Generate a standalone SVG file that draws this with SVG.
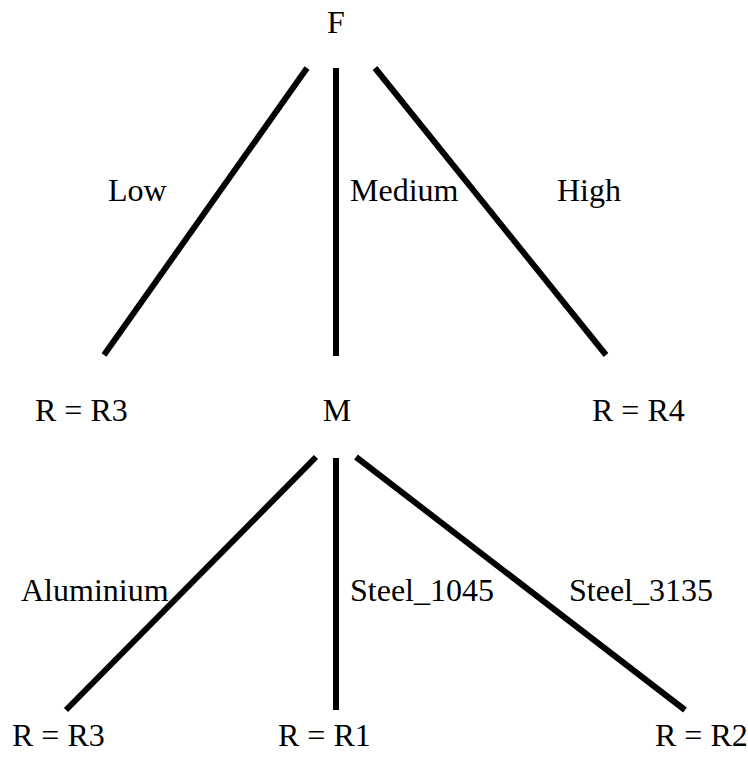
<svg xmlns="http://www.w3.org/2000/svg" width="748" height="765" viewBox="0 0 748 765">
<style>
.edge{stroke:#000;stroke-width:6;stroke-linecap:butt}
</style>
<rect width="748" height="765" fill="#fff"/>
<g id="connectors">
<line class="edge" x1="307" y1="68" x2="104" y2="355"/>
<line class="edge" x1="336" y1="68" x2="336" y2="356"/>
<line class="edge" x1="375" y1="68" x2="606" y2="355"/>
<line class="edge" x1="316" y1="457" x2="66" y2="710"/>
<line class="edge" x1="336" y1="458" x2="336" y2="710"/>
<line class="edge" x1="356" y1="457" x2="685" y2="710"/>
<text font-family="Liberation Serif, serif" font-size="32" x="108" y="201">Low</text>
<text font-family="Liberation Serif, serif" font-size="32" x="350" y="201">Medium</text>
<text font-family="Liberation Serif, serif" font-size="32" x="557" y="201">High</text>
<text font-family="Liberation Serif, serif" font-size="32" x="21" y="601">Aluminium</text>
<text font-family="Liberation Serif, serif" font-size="32" x="350" y="601">Steel_1045</text>
<text font-family="Liberation Serif, serif" font-size="32" x="569" y="601">Steel_3135</text>
</g>
<g id="nF"><text font-family="Liberation Serif, serif" font-size="32" x="336" y="33" text-anchor="middle">F</text></g>
<g id="nR3a"><text font-family="Liberation Serif, serif" font-size="32" x="35" y="421">R = R3</text></g>
<g id="nM"><text font-family="Liberation Serif, serif" font-size="32" x="337" y="421" text-anchor="middle">M</text></g>
<g id="nR4"><text font-family="Liberation Serif, serif" font-size="32" x="592" y="421">R = R4</text></g>
<g id="nR3b"><text font-family="Liberation Serif, serif" font-size="32" x="12" y="746">R = R3</text></g>
<g id="nR1"><text font-family="Liberation Serif, serif" font-size="32" x="278" y="746">R = R1</text></g>
<g id="nR2"><text font-family="Liberation Serif, serif" font-size="32" x="655" y="746">R = R2</text></g>
</svg>
